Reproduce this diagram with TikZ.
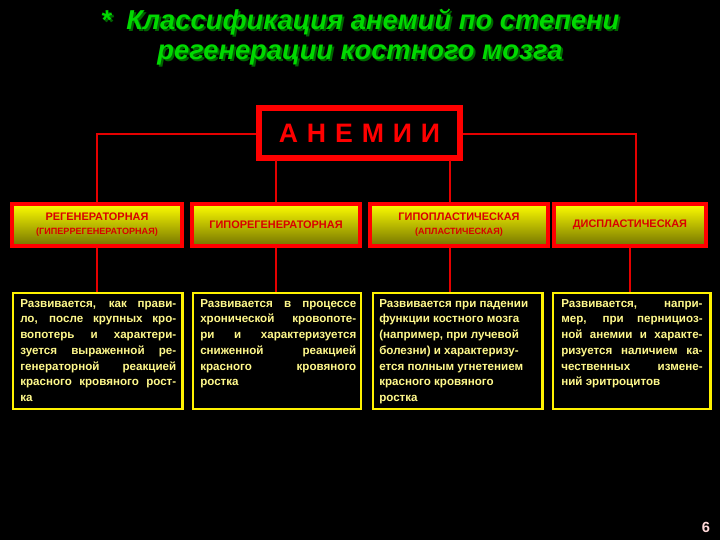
\documentclass[tikz,border=0pt]{standalone}
\usepackage{fontspec}
\setmainfont{Liberation Sans}
\begin{document}
\begin{tikzpicture}[x=0.75pt,y=-0.75pt,
  link/.style={draw=red!90!black,line width=2pt},
  head/.style={draw=red,line width=3pt,shading=axis,top color=yellow,bottom color=yellow!45!black,
    inner sep=0pt,text=red!85!black,font=\bfseries\fontsize{8.2}{9.5}\selectfont,align=center},
  body/.style={draw=yellow,line width=1.8pt,fill=black,inner sep=0pt,anchor=north west},
  bt/.style={text width=117pt,align=justify,anchor=north west,inner sep=0pt,
    text=yellow!45!white,font=\bfseries\fontsize{8.7}{11.8}\selectfont}]
\fill[black] (0,0) rectangle (720,540);
\useasboundingbox (0,0) rectangle (720,540);
% title
\tikzset{ttl/.style={font=\bfseries\itshape\fontsize{20.5}{25}\selectfont}}
\node[ttl,text=black!60!green] at (362,24) {*\ \ Классификация анемий по степени};
\node[ttl,text=green!85!black] at (360,22) {*\ \ Классификация анемий по степени};
\node[ttl,text=black!60!green] at (362,57) {регенерации костного мозга};
\node[ttl,text=green!85!black] at (360,55) {регенерации костного мозга};
% root
\node[draw=red,line width=4.5pt,fill=black,minimum width=151pt,minimum height=37pt,inner sep=0pt,
  text=red,font=\bfseries\fontsize{20}{22}\selectfont] (root) at (359.5,133) {А\,\,Н\,\,Е\,\,М\,\,И\,\,И};
% coordinates
\coordinate (c1) at (97,134); \coordinate (c4) at (636,134);
\coordinate (d2) at (276,160); \coordinate (d3) at (450,160);
% heads
\node[head,minimum width=127pt,minimum height=32pt] (h1) at (97,225) {РЕГЕНЕРАТОРНАЯ\\[1pt]{\fontsize{6.8}{8}\selectfont(ГИПЕРРЕГЕНЕРАТОРНАЯ)}};
\node[head,minimum width=126pt,minimum height=32pt] (h2) at (276,225) {ГИПОРЕГЕНЕРАТОРНАЯ};
\node[head,minimum width=133pt,minimum height=32pt] (h3) at (459,225) {ГИПОПЛАСТИЧЕСКАЯ\\[1pt]{\fontsize{6.8}{8}\selectfont(АПЛАСТИЧЕСКАЯ)}};
\node[head,minimum width=114pt,minimum height=32pt] (h4) at (630,225) {ДИСПЛАСТИЧЕСКАЯ};
% bodies
\node[body,minimum width=127pt,minimum height=87pt] (b1) at (12,292) {};
\node[body,minimum width=126pt,minimum height=87pt] (b2) at (192,292) {};
\node[body,minimum width=127pt,minimum height=87pt] (b3) at (372,292) {};
\node[body,minimum width=118pt,minimum height=87pt] (b4) at (552,292) {};
\node[bt] (t1) at (20,299) {Развивается, как прави-\linebreak ло, после крупных кро-\linebreak вопотерь и характери-\linebreak зуется выраженной ре-\linebreak генераторной реакцией\linebreak красного кровяного рост-\linebreak ка};
\node[bt] (t2) at (200,299) {Развивается в процессе\linebreak хронической кровопоте-\linebreak ри и характеризуется\linebreak сниженной реакцией\linebreak красного кровяного\linebreak ростка};
\node[bt] (t3) at (379,299) {Развивается при падении\\ функции костного мозга\\ (например, при лучевой\\ болезни) и характеризу-\\ ется полным угнетением\\ красного кровяного\\ ростка};
\node[bt,text width=106pt] (t4) at (561,299) {Развивается, напри-\linebreak мер, при пернициоз-\linebreak ной анемии и характе-\linebreak ризуется наличием ка-\linebreak чественных измене-\linebreak ний эритроцитов};
% links
\draw[link] (root.west |- c1) -- (c1) -- (h1.north);
\draw[link] (root.east |- c4) -- (c4) -- (c4 |- h4.north);
\draw[link] (d2) -- (d2 |- h2.north);
\draw[link] (d3) -- (d3 |- h3.north);
\draw[link] (h1.south) -- (b1.north -| h1.south);
\draw[link] (h2.south) -- (b2.north -| h2.south);
\draw[link] (h3.south -| d3) -- (b3.north -| d3);
\draw[link] (h4.south) -- (b4.north -| h4.south);
\node[text=pink!60!white,font=\bfseries\fontsize{11}{12}\selectfont] (pg) at (706,527) {6};
\end{tikzpicture}
\end{document}
